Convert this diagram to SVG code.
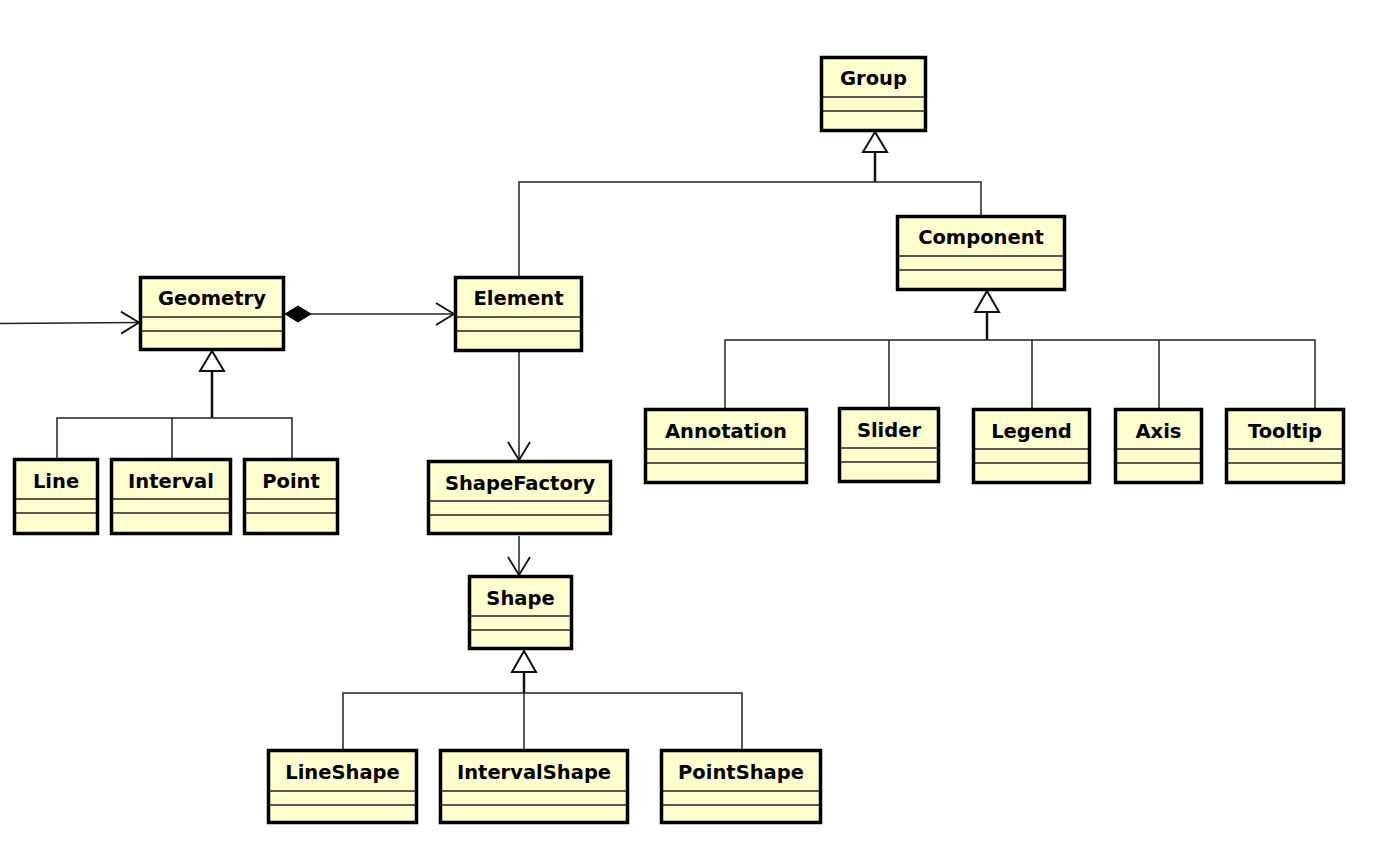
<svg xmlns="http://www.w3.org/2000/svg" width="1382" height="858" viewBox="0 0 1382 858">
<style>
.box{fill:#FEFECE;stroke:#000;stroke-width:3.5}
.sep{stroke:#222;stroke-width:1.5}
.t{font-family:"DejaVu Sans","Liberation Sans",sans-serif;font-weight:bold;font-size:19.5px;fill:#000;text-anchor:middle}
.c{fill:none;stroke:#222;stroke-width:1.5}
.trunk{fill:none;stroke:#111;stroke-width:2.5}
.tri{fill:#fff;stroke:#111;stroke-width:2}
.dia{fill:#000;stroke:#000;stroke-width:1}
</style>
<defs>
<marker id="open" markerUnits="userSpaceOnUse" markerWidth="22" markerHeight="26" refX="18" refY="11" orient="auto" overflow="visible">
<path d="M0,0 L18,11 L0,22" fill="none" stroke="#111" stroke-width="1.8"/>
</marker>
</defs>
<rect width="1382" height="858" fill="#fff"/>
<g id="connectors">
<polygon class="tri" points="875,132 863,152 887,152"/>
<line class="trunk" x1="875" y1="152" x2="875" y2="182"/>
<polyline class="c" points="519,276 519,182 981,182 981,215"/>
<polygon class="tri" points="987,291 975,312 999,312"/>
<line class="trunk" x1="987" y1="312" x2="987" y2="340"/>
<polyline class="c" points="725,408 725,340 1315,340 1315,408"/>
<line class="c" x1="889" y1="340" x2="889" y2="407"/>
<line class="c" x1="1032" y1="340" x2="1032" y2="408"/>
<line class="c" x1="1159" y1="340" x2="1159" y2="408"/>
<polygon class="tri" points="212,351 200,371 224,371"/>
<line class="trunk" x1="212" y1="371" x2="212" y2="418"/>
<polyline class="c" points="57,458 57,418 292,418 292,458"/>
<line class="c" x1="172" y1="418" x2="172" y2="458"/>
<polygon class="tri" points="524,651 512,672 536,672"/>
<line class="trunk" x1="524" y1="672" x2="524" y2="693"/>
<polyline class="c" points="343,749 343,693 742,693 742,749"/>
<line class="c" x1="524" y1="693" x2="524" y2="749"/>
<polygon class="dia" points="285,314 298,306 311,314 298,322"/>
<line class="c" x1="311" y1="314" x2="454" y2="314" marker-end="url(#open)"/>
<line class="c" x1="0" y1="323.5" x2="139" y2="322.5" marker-end="url(#open)"/>
<line class="c" x1="519" y1="352" x2="519" y2="460" marker-end="url(#open)"/>
<line class="c" x1="519" y1="536" x2="519" y2="575" marker-end="url(#open)"/>
</g>
<g id="Group"><rect class="box" x="821.5" y="57.5" width="104" height="73"/><text class="t" x="873.5" y="85">Group</text><line class="sep" x1="823" y1="97" x2="924" y2="97"/><line class="sep" x1="823" y1="111" x2="924" y2="111"/></g>
<g id="Component"><rect class="box" x="897.5" y="216.5" width="167" height="73"/><text class="t" x="981" y="244">Component</text><line class="sep" x1="899" y1="256" x2="1063" y2="256"/><line class="sep" x1="899" y1="270" x2="1063" y2="270"/></g>
<g id="Geometry"><rect class="box" x="140.5" y="277.5" width="143" height="72"/><text class="t" x="212" y="305">Geometry</text><line class="sep" x1="142" y1="317" x2="282" y2="317"/><line class="sep" x1="142" y1="331" x2="282" y2="331"/></g>
<g id="Element"><rect class="box" x="455.5" y="277.5" width="126" height="73"/><text class="t" x="518.5" y="305">Element</text><line class="sep" x1="457" y1="317" x2="580" y2="317"/><line class="sep" x1="457" y1="331" x2="580" y2="331"/></g>
<g id="Line"><rect class="box" x="14.5" y="459.5" width="83" height="74"/><text class="t" x="56" y="488">Line</text><line class="sep" x1="16" y1="499" x2="96" y2="499"/><line class="sep" x1="16" y1="513" x2="96" y2="513"/></g>
<g id="Interval"><rect class="box" x="111.5" y="459.5" width="119" height="74"/><text class="t" x="171" y="488">Interval</text><line class="sep" x1="113" y1="499" x2="229" y2="499"/><line class="sep" x1="113" y1="513" x2="229" y2="513"/></g>
<g id="Point"><rect class="box" x="244.5" y="459.5" width="93" height="74"/><text class="t" x="291" y="488">Point</text><line class="sep" x1="246" y1="499" x2="336" y2="499"/><line class="sep" x1="246" y1="513" x2="336" y2="513"/></g>
<g id="ShapeFactory"><rect class="box" x="428.5" y="461.5" width="182" height="72"/><text class="t" x="520" y="490">ShapeFactory</text><line class="sep" x1="430" y1="501" x2="609" y2="501"/><line class="sep" x1="430" y1="515" x2="609" y2="515"/></g>
<g id="Shape"><rect class="box" x="469.5" y="576.5" width="102" height="72"/><text class="t" x="520.5" y="605">Shape</text><line class="sep" x1="471" y1="616" x2="570" y2="616"/><line class="sep" x1="471" y1="630" x2="570" y2="630"/></g>
<g id="LineShape"><rect class="box" x="268.5" y="750.5" width="148" height="72"/><text class="t" x="342.5" y="779">LineShape</text><line class="sep" x1="270" y1="791" x2="415" y2="791"/><line class="sep" x1="270" y1="805" x2="415" y2="805"/></g>
<g id="IntervalShape"><rect class="box" x="440.5" y="750.5" width="187" height="72"/><text class="t" x="534" y="779">IntervalShape</text><line class="sep" x1="442" y1="791" x2="626" y2="791"/><line class="sep" x1="442" y1="805" x2="626" y2="805"/></g>
<g id="PointShape"><rect class="box" x="661.5" y="750.5" width="159" height="72"/><text class="t" x="741" y="779">PointShape</text><line class="sep" x1="663" y1="791" x2="819" y2="791"/><line class="sep" x1="663" y1="805" x2="819" y2="805"/></g>
<g id="Annotation"><rect class="box" x="645.5" y="409.5" width="161" height="73"/><text class="t" x="726" y="438">Annotation</text><line class="sep" x1="647" y1="449" x2="805" y2="449"/><line class="sep" x1="647" y1="463" x2="805" y2="463"/></g>
<g id="Slider"><rect class="box" x="839.5" y="408.5" width="99" height="73"/><text class="t" x="889" y="437">Slider</text><line class="sep" x1="841" y1="448" x2="937" y2="448"/><line class="sep" x1="841" y1="462" x2="937" y2="462"/></g>
<g id="Legend"><rect class="box" x="973.5" y="409.5" width="116" height="73"/><text class="t" x="1031.5" y="438">Legend</text><line class="sep" x1="975" y1="449" x2="1088" y2="449"/><line class="sep" x1="975" y1="463" x2="1088" y2="463"/></g>
<g id="Axis"><rect class="box" x="1115.5" y="409.5" width="86" height="73"/><text class="t" x="1158.5" y="438">Axis</text><line class="sep" x1="1117" y1="449" x2="1200" y2="449"/><line class="sep" x1="1117" y1="463" x2="1200" y2="463"/></g>
<g id="Tooltip"><rect class="box" x="1226.5" y="409.5" width="117" height="73"/><text class="t" x="1285" y="438">Tooltip</text><line class="sep" x1="1228" y1="449" x2="1342" y2="449"/><line class="sep" x1="1228" y1="463" x2="1342" y2="463"/></g>
</svg>
